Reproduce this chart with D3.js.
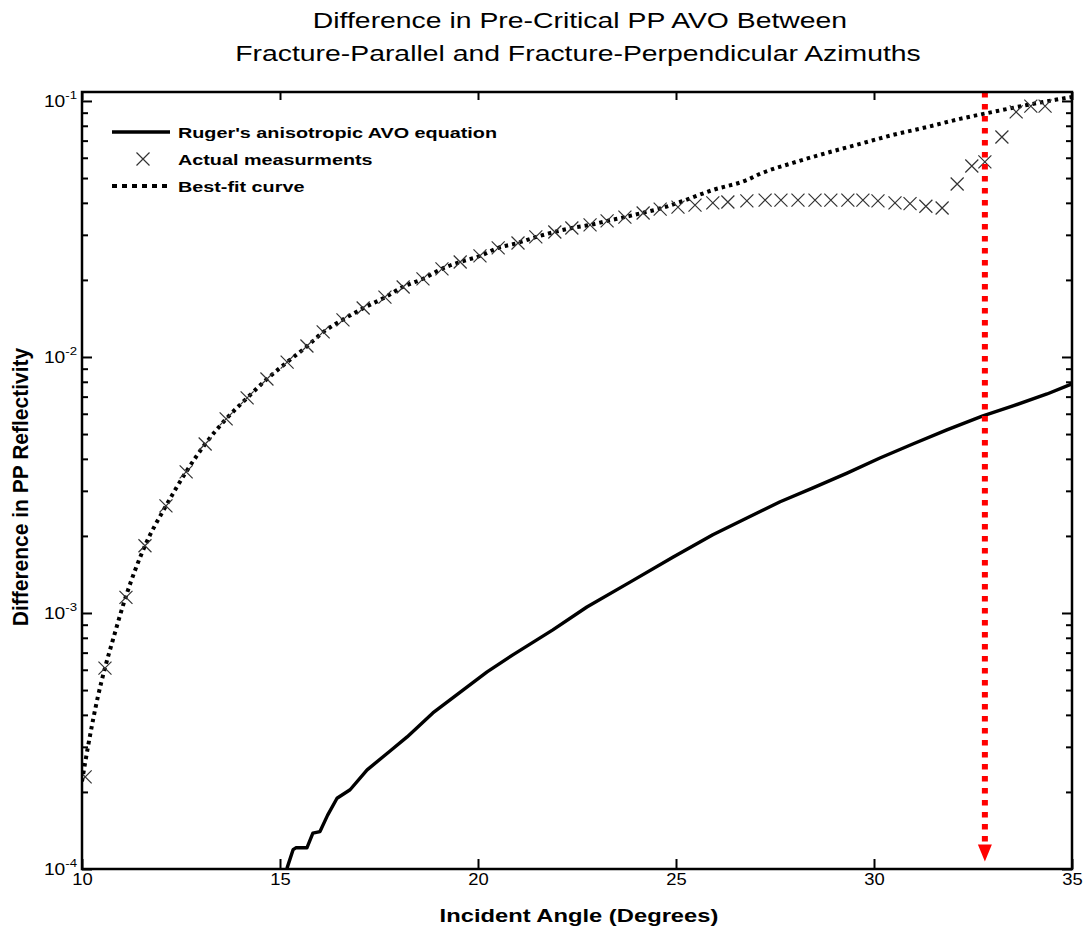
<!DOCTYPE html>
<html>
<head>
<meta charset="utf-8">
<script src="https://cdn.jsdelivr.net/npm/d3@7"></script>
<style>
  html, body { margin: 0; padding: 0; background: #fff; }
  svg { display: block; font-family: "Liberation Sans", Arial, sans-serif; }
</style>
</head>
<body>
<svg id="chart" width="1085" height="932"></svg>
<script>
// ---------------- data ----------------
const titleLines = ["Difference in Pre-Critical PP AVO Between", "Fracture-Parallel and Fracture-Perpendicular Azimuths"];
const xLabel = "Incident Angle (Degrees)";
const yLabel = "Difference in PP Reflectivity";
const xDomain = [10, 35];
const yDomain = [1e-4, 0.1084];
const xTicks = [10, 15, 20, 25, 30, 35];
const yDecades = [1e-4, 1e-3, 1e-2, 1e-1];
const yDecadeExponents = ["-4", "-3", "-2", "-1"];
const legendLabels = ["Ruger's anisotropic AVO equation", "Actual measurments", "Best-fit curve"];

const rugerAngles = [15.10, 15.18, 15.33, 15.40, 15.68, 15.83, 16.01, 16.20, 16.44, 16.77, 17.20, 17.78, 18.21, 18.86, 19.62, 20.23, 20.88, 21.89, 22.75, 23.84, 24.92, 25.93, 26.79, 27.63, 28.46, 29.32, 30.15, 30.98, 31.84, 32.75, 33.51, 34.37, 35.0];
const rugerValues = [0.95e-4, 1.01e-4, 1.19e-4, 1.21e-4, 1.21e-4, 1.38e-4, 1.40e-4, 1.62e-4, 1.89e-4, 2.04e-4, 2.44e-4, 2.89e-4, 3.28e-4, 4.07e-4, 5.0e-4, 5.89e-4, 6.86e-4, 8.59e-4, 1.055e-3, 1.32e-3, 1.65e-3, 2.02e-3, 2.35e-3, 2.72e-3, 3.08e-3, 3.52e-3, 4.03e-3, 4.57e-3, 5.19e-3, 5.89e-3, 6.44e-3, 7.17e-3, 7.85e-3];

const measAngles = [10.08, 10.58, 11.11, 11.59, 12.12, 12.63, 13.11, 13.64, 14.17, 14.67, 15.18, 15.68, 16.09, 16.59, 17.10, 17.65, 18.11, 18.61, 19.09, 19.55, 20.05, 20.51, 21.01, 21.46, 21.94, 22.37, 22.83, 23.26, 23.71, 24.17, 24.60, 25.05, 25.48, 25.93, 26.31, 26.79, 27.25, 27.65, 28.08, 28.51, 28.91, 29.34, 29.72, 30.10, 30.53, 30.91, 31.31, 31.72, 32.10, 32.47, 32.80, 33.23, 33.59, 33.96, 34.32];
const measValues = [2.29e-4, 6.09e-4, 1.15e-3, 1.83e-3, 2.62e-3, 3.56e-3, 4.57e-3, 5.73e-3, 6.92e-3, 8.2e-3, 9.55e-3, 0.01104, 0.01253, 0.01396, 0.01553, 0.01714, 0.01876, 0.02018, 0.02208, 0.0235, 0.02483, 0.02667, 0.02788, 0.02944, 0.03077, 0.03191, 0.0328, 0.0340, 0.0352, 0.0365, 0.0378, 0.0385, 0.0392, 0.0400, 0.0403, 0.0407, 0.0410, 0.0410, 0.0410, 0.0410, 0.0410, 0.0410, 0.0410, 0.0407, 0.0400, 0.0397, 0.0388, 0.0382, 0.0474, 0.0557, 0.0578, 0.0723, 0.0906, 0.0955, 0.0955];

const fitAngles = [10.0, 10.15, 10.40, 10.58, 10.78, 11.10, 11.59, 12.12, 12.63, 13.11, 13.64, 14.17, 14.67, 15.18, 15.68, 16.09, 16.59, 17.10, 17.65, 18.11, 18.61, 19.09, 19.55, 20.05, 20.51, 21.01, 21.46, 21.94, 22.37, 22.83, 23.26, 23.71, 24.17, 24.60, 25.10, 25.93, 26.79, 27.12, 27.95, 28.81, 29.65, 30.48, 31.34, 32.17, 33.0, 33.86, 34.70, 35.0];
const fitValues = [2.2e-4, 3.0e-4, 4.7e-4, 6.1e-4, 7.85e-4, 1.15e-3, 1.83e-3, 2.62e-3, 3.56e-3, 4.57e-3, 5.73e-3, 6.92e-3, 8.2e-3, 9.55e-3, 0.0110, 0.0125, 0.0140, 0.0155, 0.0171, 0.0188, 0.0202, 0.0221, 0.0235, 0.0248, 0.0267, 0.0279, 0.0294, 0.0308, 0.0319, 0.0328, 0.0340, 0.0352, 0.0366, 0.0380, 0.0403, 0.0449, 0.0491, 0.0519, 0.0573, 0.0627, 0.0680, 0.0737, 0.0791, 0.0851, 0.0906, 0.0964, 0.1018, 0.1037];

const arrowAngle = 32.8;
const arrowTipValue = 1.07e-4;

// ---------------- layout ----------------
const svg = d3.select("#chart");
const M = { left: 82, right: 1072, top: 92, bottom: 869 };
const SX = 1.32; // horizontal stretch of the glyphs in the reference

const x = d3.scaleLinear().domain(xDomain).range([M.left, M.right]);
const y = d3.scaleLog().domain(yDomain).range([M.bottom, M.top]);

function stretchedText(parent, px, py, str, opt) {
  const g = parent.append("g").attr("transform", `translate(${px},${py}) scale(${SX},1)` + (opt.rotate ? ` rotate(${opt.rotate})` : ""));
  const t = g.append("text")
    .attr("text-anchor", opt.anchor || "start")
    .attr("font-size", opt.size)
    .attr("font-weight", opt.weight || "normal")
    .attr("fill", "#000")
    .text(str);
  return t;
}

// title
stretchedText(svg, 580, 28, titleLines[0], { anchor: "middle", size: 21.5 });
stretchedText(svg, 578, 61, titleLines[1], { anchor: "middle", size: 21.5 });

// clip
svg.append("defs").append("clipPath").attr("id", "clip")
  .append("rect").attr("x", M.left).attr("y", M.top).attr("width", M.right - M.left).attr("height", M.bottom - M.top);

const plot = svg.append("g").attr("clip-path", "url(#clip)");

// best-fit dotted curve
const fitData = fitAngles.map((a, i) => [a, fitValues[i]]);
plot.append("path")
  .datum(fitData)
  .attr("fill", "none")
  .attr("stroke", "#000")
  .attr("stroke-width", 4)
  .attr("stroke-dasharray", "3.5,4")
  .attr("d", d3.line().x(d => x(d[0])).y(d => y(d[1])).curve(d3.curveMonotoneX));

// Ruger solid line
const rugerData = rugerAngles.map((a, i) => [a, rugerValues[i]]);
plot.append("path")
  .datum(rugerData)
  .attr("fill", "none")
  .attr("stroke", "#000")
  .attr("stroke-width", 3.4)
  .attr("stroke-linejoin", "round")
  .attr("d", d3.line().x(d => x(d[0])).y(d => y(d[1])));

// measurement markers (x)
const S = 6.5;
const measData = measAngles.map((a, i) => [a, measValues[i]]);
plot.append("g").selectAll("path").data(measData).join("path")
  .attr("fill", "none")
  .attr("stroke", "#333")
  .attr("stroke-width", 1.2)
  .attr("d", d => {
    const cx = x(d[0]), cy = y(d[1]);
    return `M${cx - S},${cy - S}L${cx + S},${cy + S}M${cx - S},${cy + S}L${cx + S},${cy - S}`;
  });

// red arrow
const ax = x(arrowAngle);
const tipY = y(arrowTipValue);
svg.append("line")
  .attr("x1", ax).attr("x2", ax)
  .attr("y1", y(yDomain[1])).attr("y2", tipY - 14)
  .attr("stroke", "#ff0000")
  .attr("stroke-width", 6)
  .attr("stroke-dasharray", "5.5,6.5");
svg.append("path")
  .attr("fill", "#ff0000")
  .attr("d", `M${ax - 7},${tipY - 17}L${ax + 7},${tipY - 17}L${ax},${tipY}Z`);

// axes
const yTickVals = y.ticks().filter(v => v >= yDomain[0] * 0.999 && v <= yDomain[1]);
const isDecade = v => yDecades.some(d => Math.abs(v / d - 1) < 1e-6);

const gBottom = svg.append("g").attr("transform", `translate(0,${M.bottom})`)
  .call(d3.axisBottom(x).tickValues(xTicks).tickSize(-10).tickPadding(6).tickFormat(d3.format("d")));
const gTop = svg.append("g").attr("transform", `translate(0,${M.top})`)
  .call(d3.axisTop(x).tickValues(xTicks).tickSize(-8).tickFormat(""));
const gLeft = svg.append("g").attr("transform", `translate(${M.left},0)`)
  .call(d3.axisLeft(y).tickValues(yTickVals).tickSize(-6).tickFormat(""));
const gRight = svg.append("g").attr("transform", `translate(${M.right},0)`)
  .call(d3.axisRight(y).tickValues(yTickVals).tickSize(-6).tickFormat(""));

[gBottom, gTop, gLeft, gRight].forEach(g => {
  g.select(".domain").remove();
  g.selectAll(".tick line").attr("stroke", "#000").attr("stroke-width", 2);
});
gLeft.selectAll(".tick line").attr("x2", d => isDecade(d) ? 10 : 6);
gRight.selectAll(".tick line").attr("x2", d => isDecade(d) ? -10 : -6);

gBottom.selectAll(".tick text")
  .attr("font-size", 16)
  .attr("font-family", "Liberation Sans, Arial, sans-serif")
  .attr("fill", "#000")
  .attr("dy", 0)
  .attr("y", 0)
  .attr("transform", `translate(0,16) scale(1.15,1)`);

// frame
svg.append("rect")
  .attr("x", M.left).attr("y", M.top)
  .attr("width", M.right - M.left).attr("height", M.bottom - M.top)
  .attr("fill", "none").attr("stroke", "#000").attr("stroke-width", 2.5);

// y decade labels with superscripts
yDecades.forEach((v, i) => {
  const g = svg.append("g").attr("transform", `translate(77,${y(v) + 6}) scale(1.2,1)`);
  const t = g.append("text").attr("text-anchor", "end").attr("fill", "#000");
  t.append("tspan").attr("font-size", 16).text("10");
  t.append("tspan").attr("font-size", 11).attr("dy", -8).text(yDecadeExponents[i]);
});

// axis labels
stretchedText(svg, 579, 922, xLabel, { anchor: "middle", size: 18, weight: "bold" });
const gy = svg.append("g").attr("transform", `translate(28,487) scale(1.08,1) rotate(-90)`);
gy.append("text").attr("text-anchor", "middle").attr("font-size", 21).attr("font-weight", "bold").attr("fill", "#000").text(yLabel);

// legend
const L = svg.append("g");
const legY = [132, 159, 186];
L.append("line").attr("x1", 112).attr("x2", 170).attr("y1", legY[0]).attr("y2", legY[0])
  .attr("stroke", "#000").attr("stroke-width", 3.4);
L.append("path").attr("fill", "none").attr("stroke", "#333").attr("stroke-width", 1.2)
  .attr("d", `M${143 - S},${legY[1] - S}L${143 + S},${legY[1] + S}M${143 - S},${legY[1] + S}L${143 + S},${legY[1] - S}`);
L.append("line").attr("x1", 112).attr("x2", 170).attr("y1", legY[2]).attr("y2", legY[2])
  .attr("stroke", "#000").attr("stroke-width", 4).attr("stroke-dasharray", "5,5");
legendLabels.forEach((s, i) => {
  stretchedText(L, 178, legY[i] + 6, s, { anchor: "start", size: 15, weight: "bold" });
});
</script>
</body>
</html>
